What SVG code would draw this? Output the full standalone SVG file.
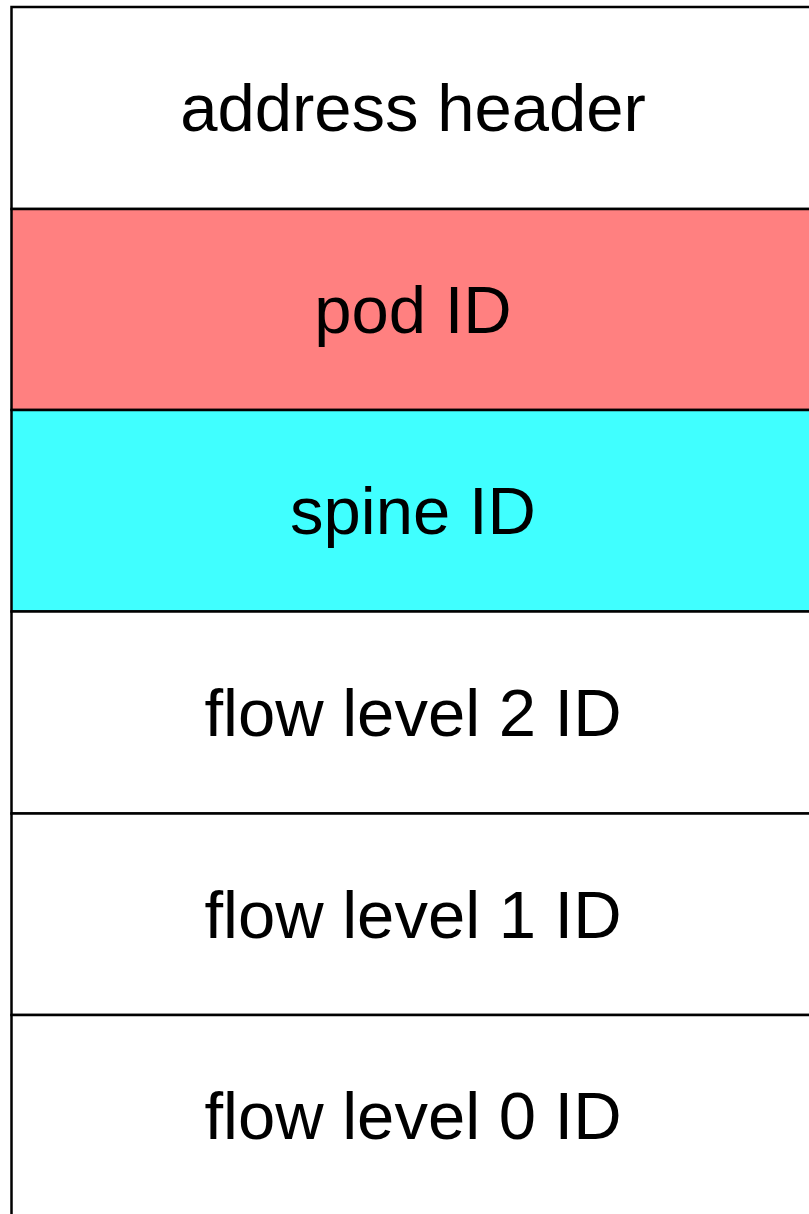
<svg xmlns="http://www.w3.org/2000/svg" width="809" height="1214" viewBox="0 0 809 1214">
<style>
.cell{stroke:#000;stroke-width:2.5}
.t{font-family:"Liberation Sans",Arial,sans-serif;font-size:67px;fill:#000;text-anchor:middle}
</style>
<rect x="0" y="0" width="809" height="1214" fill="#fff"/>
<g id="address-header"><rect class="cell" x="11.5" y="7" width="820" height="202" fill="#fff"/><text class="t" x="413" y="131">address header</text></g>
<g id="pod-id"><rect class="cell" x="11.5" y="209" width="820" height="201" fill="#FF8080"/><text class="t" x="413" y="333">pod ID</text></g>
<g id="spine-id"><rect class="cell" x="11.5" y="410" width="820" height="201.5" fill="#40FFFF"/><text class="t" x="413" y="534">spine ID</text></g>
<g id="flow-level-2"><rect class="cell" x="11.5" y="611.5" width="820" height="202" fill="#fff"/><text class="t" x="413" y="736">flow level 2 ID</text></g>
<g id="flow-level-1"><rect class="cell" x="11.5" y="813.5" width="820" height="201.5" fill="#fff"/><text class="t" x="413" y="938">flow level 1 ID</text></g>
<g id="flow-level-0"><rect class="cell" x="11.5" y="1015" width="820" height="220" fill="#fff"/><text class="t" x="413" y="1139">flow level 0 ID</text></g>
</svg>
